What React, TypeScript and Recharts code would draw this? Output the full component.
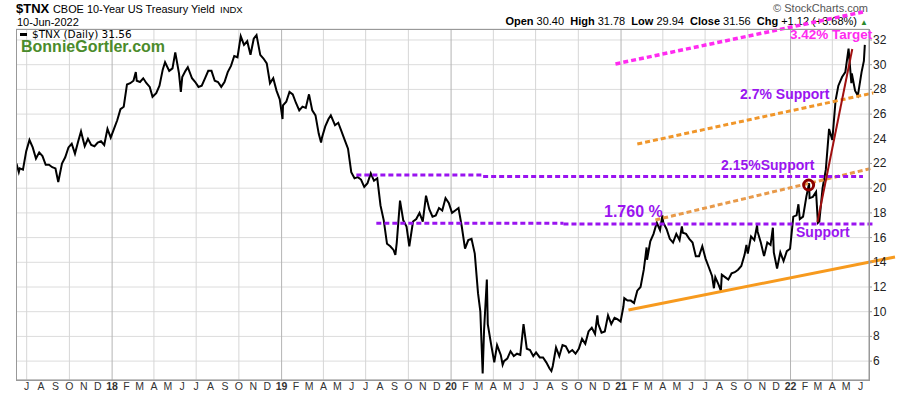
import React from "react";
import {
  LineChart,
  Line,
  XAxis,
  YAxis,
  CartesianGrid,
  ReferenceLine,
  ReferenceDot,
} from "recharts";

// $TNX daily close (yield x10)
const tnx2017: [string, number][] = [
  ["2017-06-09", 22.0], ["2017-06-14", 21.3], ["2017-06-16", 21.6], ["2017-06-23", 21.5],
  ["2017-06-30", 23.0], ["2017-07-07", 23.9], ["2017-07-14", 23.3], ["2017-07-21", 22.4],
  ["2017-07-28", 22.9], ["2017-08-04", 22.6], ["2017-08-11", 21.9], ["2017-08-18", 21.9],
  ["2017-08-25", 21.7], ["2017-09-01", 21.6], ["2017-09-07", 20.5], ["2017-09-15", 22.0],
  ["2017-09-22", 22.5], ["2017-09-29", 23.3], ["2017-10-06", 23.6], ["2017-10-13", 22.8],
  ["2017-10-20", 23.8], ["2017-10-26", 24.6], ["2017-11-03", 23.4], ["2017-11-10", 24.0],
  ["2017-11-17", 23.5], ["2017-11-24", 23.4], ["2017-12-01", 23.7], ["2017-12-08", 23.8],
  ["2017-12-15", 23.5], ["2017-12-22", 24.8], ["2017-12-29", 24.1],
];

const tnx2018: [string, number][] = [
  ["2018-01-05", 24.8], ["2018-01-12", 25.5], ["2018-01-19", 26.4], ["2018-01-26", 26.6],
  ["2018-02-02", 28.4], ["2018-02-09", 28.5], ["2018-02-16", 28.7], ["2018-02-21", 29.4],
  ["2018-02-23", 28.7], ["2018-03-02", 28.6], ["2018-03-09", 28.9], ["2018-03-16", 28.5],
  ["2018-03-23", 28.2], ["2018-03-29", 27.4], ["2018-04-06", 27.7], ["2018-04-13", 28.3],
  ["2018-04-20", 29.6], ["2018-04-25", 30.2], ["2018-05-04", 29.5], ["2018-05-11", 29.7],
  ["2018-05-17", 31.0], ["2018-05-25", 29.3], ["2018-05-29", 27.8], ["2018-06-01", 29.0],
  ["2018-06-08", 29.5], ["2018-06-13", 29.8], ["2018-06-22", 28.9], ["2018-06-29", 28.6],
  ["2018-07-06", 28.2], ["2018-07-13", 28.3], ["2018-07-20", 28.9], ["2018-07-27", 29.5],
  ["2018-08-03", 29.5], ["2018-08-10", 28.7], ["2018-08-17", 28.6], ["2018-08-24", 28.2],
  ["2018-08-31", 28.6], ["2018-09-07", 29.4], ["2018-09-14", 29.9], ["2018-09-21", 30.7],
  ["2018-09-28", 30.6], ["2018-10-05", 32.3], ["2018-10-12", 31.6], ["2018-10-19", 31.9],
  ["2018-10-26", 30.8], ["2018-11-02", 32.1], ["2018-11-08", 32.4], ["2018-11-16", 30.8],
  ["2018-11-23", 30.5], ["2018-11-30", 30.1], ["2018-12-07", 28.5], ["2018-12-14", 28.9],
  ["2018-12-21", 27.9], ["2018-12-28", 27.2],
];

const tnx2019: [string, number][] = [
  ["2019-01-03", 25.6], ["2019-01-04", 26.7], ["2019-01-11", 27.0], ["2019-01-18", 27.8],
  ["2019-01-25", 27.6], ["2019-02-01", 26.9], ["2019-02-08", 26.3], ["2019-02-15", 26.6],
  ["2019-02-22", 26.5], ["2019-03-01", 27.6], ["2019-03-08", 26.3], ["2019-03-15", 25.9],
  ["2019-03-22", 24.4], ["2019-03-27", 23.7], ["2019-03-29", 24.1], ["2019-04-05", 25.0],
  ["2019-04-12", 25.6], ["2019-04-17", 25.9], ["2019-04-26", 25.1], ["2019-05-03", 25.3],
  ["2019-05-10", 24.6], ["2019-05-17", 23.9], ["2019-05-24", 23.2], ["2019-05-31", 21.3],
  ["2019-06-07", 20.8], ["2019-06-14", 20.9], ["2019-06-21", 20.7], ["2019-06-28", 20.1],
  ["2019-07-05", 20.4], ["2019-07-12", 21.2], ["2019-07-19", 20.6], ["2019-07-26", 20.8],
  ["2019-08-02", 18.6], ["2019-08-09", 17.4], ["2019-08-16", 15.5], ["2019-08-23", 15.3],
  ["2019-08-30", 15.0], ["2019-09-03", 14.6], ["2019-09-06", 15.6], ["2019-09-13", 19.0],
  ["2019-09-20", 17.4], ["2019-09-27", 16.9], ["2019-10-03", 15.3], ["2019-10-11", 17.3],
  ["2019-10-18", 17.5], ["2019-10-25", 18.0], ["2019-11-01", 17.3], ["2019-11-08", 19.4],
  ["2019-11-15", 18.3], ["2019-11-22", 17.7], ["2019-11-29", 17.8], ["2019-12-06", 18.4],
  ["2019-12-13", 18.2], ["2019-12-20", 19.2], ["2019-12-27", 18.8],
];

const tnx2020: [string, number][] = [
  ["2020-01-03", 18.0], ["2020-01-10", 18.2], ["2020-01-17", 18.4], ["2020-01-24", 16.9],
  ["2020-01-31", 15.1], ["2020-02-07", 15.8], ["2020-02-14", 15.9], ["2020-02-21", 14.7],
  ["2020-02-28", 11.5], ["2020-03-04", 10.0], ["2020-03-09", 5.0], ["2020-03-12", 8.5],
  ["2020-03-18", 12.6], ["2020-03-20", 9.0], ["2020-03-27", 7.4], ["2020-04-03", 5.9],
  ["2020-04-09", 7.3], ["2020-04-17", 6.5], ["2020-04-21", 5.7], ["2020-04-24", 6.0],
  ["2020-05-01", 6.2], ["2020-05-08", 6.8], ["2020-05-15", 6.4], ["2020-05-22", 6.6],
  ["2020-05-29", 6.5], ["2020-06-05", 9.0], ["2020-06-12", 7.0], ["2020-06-19", 6.9],
  ["2020-06-26", 6.4], ["2020-07-02", 6.7], ["2020-07-10", 6.3], ["2020-07-17", 6.3],
  ["2020-07-24", 5.9], ["2020-07-31", 5.4], ["2020-08-04", 5.2], ["2020-08-07", 5.6],
  ["2020-08-14", 7.1], ["2020-08-21", 6.4], ["2020-08-28", 7.3], ["2020-09-04", 7.2],
  ["2020-09-11", 6.7], ["2020-09-18", 6.9], ["2020-09-25", 6.6], ["2020-10-02", 7.0],
  ["2020-10-09", 7.8], ["2020-10-16", 7.4], ["2020-10-23", 8.4], ["2020-10-30", 8.7],
  ["2020-11-06", 8.2], ["2020-11-11", 9.7], ["2020-11-13", 9.0], ["2020-11-20", 8.3],
  ["2020-11-27", 8.4], ["2020-12-04", 9.7], ["2020-12-11", 9.0], ["2020-12-18", 9.5],
  ["2020-12-24", 9.4], ["2020-12-31", 9.2],
];

const tnx2021: [string, number][] = [
  ["2021-01-06", 10.4], ["2021-01-08", 11.1], ["2021-01-15", 10.9], ["2021-01-22", 10.9],
  ["2021-01-29", 10.7], ["2021-02-05", 11.7], ["2021-02-12", 12.0], ["2021-02-19", 13.4],
  ["2021-02-25", 15.2], ["2021-02-26", 14.2], ["2021-03-05", 15.7], ["2021-03-12", 16.3],
  ["2021-03-19", 17.2], ["2021-03-26", 16.6], ["2021-03-31", 17.8], ["2021-04-02", 17.2],
  ["2021-04-09", 16.7], ["2021-04-16", 15.9], ["2021-04-23", 15.6], ["2021-04-30", 16.3],
  ["2021-05-07", 15.8], ["2021-05-12", 16.9], ["2021-05-14", 16.4], ["2021-05-21", 16.3],
  ["2021-05-28", 15.9], ["2021-06-04", 15.6], ["2021-06-11", 14.5], ["2021-06-18", 14.5],
  ["2021-06-25", 15.3], ["2021-07-02", 14.3], ["2021-07-09", 13.6], ["2021-07-16", 12.9],
  ["2021-07-20", 11.9], ["2021-07-23", 12.8], ["2021-07-30", 12.2], ["2021-08-04", 11.7],
  ["2021-08-06", 13.0], ["2021-08-13", 12.8], ["2021-08-20", 12.6], ["2021-08-27", 13.1],
  ["2021-09-03", 13.2], ["2021-09-10", 13.4], ["2021-09-17", 13.7], ["2021-09-24", 14.6],
  ["2021-09-28", 15.4], ["2021-10-01", 14.7], ["2021-10-08", 16.1], ["2021-10-15", 15.8],
  ["2021-10-21", 17.0], ["2021-10-22", 16.5], ["2021-10-29", 15.6], ["2021-11-05", 14.5],
  ["2021-11-12", 15.6], ["2021-11-19", 15.4], ["2021-11-24", 16.8], ["2021-11-26", 14.8],
  ["2021-12-03", 13.5], ["2021-12-10", 14.8], ["2021-12-17", 14.1], ["2021-12-24", 14.9],
  ["2021-12-31", 15.1],
];

const tnx2022: [string, number][] = [
  ["2022-01-07", 17.7], ["2022-01-14", 17.8], ["2022-01-18", 18.7], ["2022-01-21", 17.5],
  ["2022-01-28", 17.7], ["2022-02-04", 19.3], ["2022-02-10", 20.4], ["2022-02-11", 19.2],
  ["2022-02-18", 19.3], ["2022-02-25", 19.7], ["2022-03-01", 17.2], ["2022-03-04", 17.3],
  ["2022-03-11", 20.0], ["2022-03-18", 21.5], ["2022-03-25", 24.8], ["2022-04-01", 23.9],
  ["2022-04-08", 27.1], ["2022-04-14", 28.3], ["2022-04-22", 29.0], ["2022-04-29", 29.4],
  ["2022-05-06", 31.3], ["2022-05-12", 28.5], ["2022-05-13", 29.3], ["2022-05-20", 27.9],
  ["2022-05-26", 27.5], ["2022-06-03", 29.4], ["2022-06-08", 30.3], ["2022-06-10", 31.6],
];

const yTicks = [6, 8, 10, 12, 14, 16, 18, 20, 22, 24, 26, 28, 30, 32];
const MONTH_LETTERS = ["J", "F", "M", "A", "M", "J", "J", "A", "S", "O", "N", "D"];

const PURPLE = "#9a14f0";
const ORANGE_DOT = "#f0962a";
const MAGENTA = "#ff2bf0";

// hand-drawn trend lines, in (date, value) coordinates
const trendLines = [
  { from: ["2020-12-20", 30.06], to: ["2022-06-06", 34.27], color: MAGENTA, dash: "5 3", w: 3.5 },
  { from: ["2021-02-05", 23.58], to: ["2022-06-28", 27.71], color: ORANGE_DOT, dash: "5 3", w: 3 },
  { from: ["2021-03-16", 17.43], to: ["2022-06-28", 21.64], color: "#e89a4a", dash: "5 3", w: 3 },
  { from: ["2019-06-11", 21.07], to: ["2020-03-10", 21.07], color: PURPLE, dash: "5 3", w: 3 },
  { from: ["2020-03-10", 20.95], to: ["2022-06-06", 20.95], color: PURPLE, dash: "5 3", w: 3 },
  { from: ["2019-07-24", 17.16], to: ["2020-08-30", 17.16], color: PURPLE, dash: "5 3", w: 3 },
  { from: ["2020-08-30", 17.1], to: ["2022-06-28", 17.1], color: PURPLE, dash: "5 3", w: 3 },
  { from: ["2021-01-17", 10.14], to: ["2022-08-14", 14.43], color: "#f79a1e", dash: undefined, w: 3 },
  { from: ["2022-02-28", 17.26], to: ["2022-05-14", 31.27], color: "#a01010", dash: undefined, w: 2 },
];

const ts = (s: string) => Date.parse(s + "T00:00:00Z");

const data = [...tnx2017, ...tnx2018, ...tnx2019, ...tnx2020, ...tnx2021, ...tnx2022].map(
  ([d, v]) => ({ t: ts(d), v })
);

const X_MIN = ts("2017-06-08");
const X_MAX = ts("2022-06-19");

const monthTicks: number[] = [];
for (let y = 2017; y <= 2022; y++) {
  for (let m = 0; m < 12; m++) {
    const t = Date.UTC(y, m, 1);
    if (t > X_MIN && t < X_MAX) monthTicks.push(t);
  }
}
const quarterTicks = monthTicks.filter((t) => new Date(t).getUTCMonth() % 3 === 0);

const FONT = "'Liberation Sans', Arial, sans-serif";

function MonthTick({ x, payload }: any) {
  const d = new Date(payload.value);
  const m = d.getUTCMonth();
  const isYear = m === 0;
  return (
    <text
      x={x}
      y={390}
      textAnchor="middle"
      fontSize={10.5}
      fontWeight={isYear ? 700 : 400}
      fill="#333"
      fontFamily={FONT}
    >
      {isYear ? String(d.getUTCFullYear()).slice(2) : MONTH_LETTERS[m]}
    </text>
  );
}

function PriceTick({ y, payload }: any) {
  return (
    <text x={873} y={y} dy={4} fontSize={12} fill="#222" fontFamily={FONT}>
      {payload.value}
    </text>
  );
}

function Txt({
  left,
  baseline,
  size,
  bold,
  color = "#000",
  children,
  right,
  family = FONT,
}: {
  left?: number;
  baseline: number;
  size: number;
  bold?: boolean;
  color?: string;
  right?: number;
  family?: string;
  children: React.ReactNode;
}) {
  return (
    <div
      style={{
        position: "absolute",
        left,
        right,
        top: baseline - 0.846 * size,
        fontSize: size,
        lineHeight: `${size}px`,
        fontWeight: bold ? 700 : 400,
        color,
        fontFamily: family,
        whiteSpace: "nowrap",
      }}
    >
      {children}
    </div>
  );
}

export default function App() {
  return (
    <div style={{ position: "absolute", left: 0, top: 0, width: 900, height: 396, background: "#fff" }}>
      {/* header */}
      <Txt left={16} baseline={13} size={13} bold>$TNX</Txt>
      <Txt left={53} baseline={13} size={10.9}>CBOE 10-Year US Treasury Yield</Txt>
      <Txt left={220} baseline={13} size={9.5}>INDX</Txt>
      <Txt left={17} baseline={26} size={11}>10-Jun-2022</Txt>
      <Txt right={32} baseline={12} size={11} color="#555">© StockCharts.com</Txt>
      <Txt right={32} baseline={25} size={11}>
        <b>Open</b> 30.40&nbsp;&nbsp;<b>High</b> 31.78&nbsp;&nbsp;<b>Low</b> 29.94&nbsp;&nbsp;
        <b>Close</b> 31.56&nbsp;&nbsp;<b>Chg</b> +1.12 (+3.68%) <span style={{ color: "#2a8a2a", fontSize: 8 }}>▲</span>
      </Txt>

      <div style={{ position: "absolute", left: 0, top: 0 }}>
        <LineChart
          width={900}
          height={396}
          data={data}
          margin={{ top: 29, right: 0, bottom: 0, left: 16 }}
        >
          <CartesianGrid vertical={false} stroke="#dcdcdc" strokeWidth={1} />
          {quarterTicks.map((t) => (
            <ReferenceLine
              key={t}
              x={t}
              stroke={new Date(t).getUTCMonth() === 0 ? "#b4b4b4" : "#d6d6d6"}
              strokeWidth={1}
            />
          ))}
          <XAxis
            dataKey="t"
            type="number"
            domain={[X_MIN, X_MAX]}
            allowDataOverflow
            ticks={monthTicks}
            interval={0}
            tick={<MonthTick />}
            tickLine={false}
            axisLine={{ stroke: "#999" }}
            height={16}
          />
          <YAxis
            orientation="right"
            domain={[4.47, 32.89]}
            allowDataOverflow
            ticks={yTicks}
            tick={<PriceTick />}
            tickSize={3}
            tickLine={{ stroke: "#999" }}
            axisLine={{ stroke: "#999" }}
            width={31}
          />
          <Line
            type="linear"
            dataKey="v"
            stroke="#000"
            strokeWidth={2}
            dot={false}
            isAnimationActive={false}
          />
          {trendLines.map((l, i) => (
            <ReferenceLine
              key={i}
              segment={[
                { x: ts(l.from[0] as string), y: l.from[1] as number },
                { x: ts(l.to[0] as string), y: l.to[1] as number },
              ]}
              stroke={l.color}
              strokeWidth={l.w}
              strokeDasharray={l.dash}
              ifOverflow="visible"
            />
          ))}
          <ReferenceDot
            x={ts("2022-02-09")}
            y={20.26}
            r={5}
            fill="none"
            stroke="#8b0000"
            strokeWidth={3}
            ifOverflow="visible"
          />
        </LineChart>
      </div>

      {/* plot frame */}
      <div
        style={{
          position: "absolute",
          left: 16,
          top: 29,
          width: 854,
          height: 352,
          border: "1px solid #999",
          boxSizing: "border-box",
          pointerEvents: "none",
        }}
      />

      {/* legend */}
      <div style={{ position: "absolute", left: 20, top: 33, width: 7, height: 3, background: "#000" }} />
      <Txt left={32} baseline={38} size={10.5} family="'DejaVu Sans', Verdana, sans-serif">$TNX (Daily) 31.56</Txt>
      <Txt left={21} baseline={53} size={16} bold color="#4b8b2b">BonnieGortler.com</Txt>

      {/* annotations */}
      <Txt left={790} baseline={39} size={13.5} bold color={MAGENTA}>3.42% Target</Txt>
      <Txt left={740} baseline={99} size={14} bold color={PURPLE}>2.7% Support</Txt>
      <Txt left={721} baseline={170} size={14} bold color={PURPLE}>2.15%Support</Txt>
      <Txt left={604} baseline={218} size={16} bold color={PURPLE}>1.760 %</Txt>
      <Txt left={796} baseline={237} size={14} bold color={PURPLE}>Support</Txt>
    </div>
  );
}
